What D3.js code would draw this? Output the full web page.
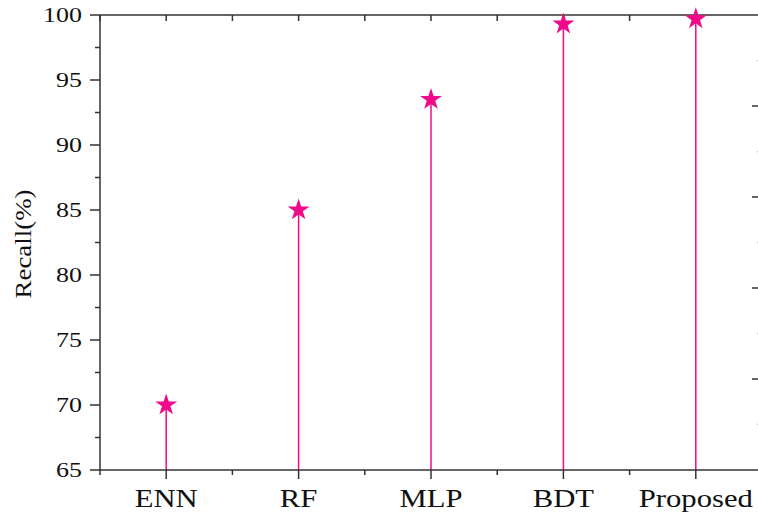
<!DOCTYPE html>
<html>
<head>
<meta charset="utf-8">
<script src="https://cdn.jsdelivr.net/npm/d3@7"></script>
<style>
  body { margin: 0; background: #fff; }
  svg { display: block; }
  text { font-family: "Liberation Serif", "Times New Roman", serif; fill: #111; }
</style>
</head>
<body>
<div id="chart"></div>
<script>
const width = 758;
const height = 515;

// data
const models = ["ENN", "RF", "MLP", "BDT", "Proposed"];
const recall = [70, 85, 93.5, 99.3, 99.7];
const yTicks = [65, 70, 75, 80, 85, 90, 95, 100];

const plotLeft = 100, plotRight = 762, plotTop = 15, plotBottom = 470;
const pink = "#f00a8a";
const axisColor = "#333";

const svg = d3.select("#chart")
  .append("svg")
  .attr("width", width)
  .attr("height", height);

const x = d3.scalePoint().domain(models).range([plotLeft, plotRight]).padding(0.5);
const y = d3.scaleLinear().domain([65, 100]).range([plotBottom, plotTop]);
// right axis has its own scale (5 intervals)
const yr = d3.scaleLinear().domain([0, 5]).range([plotBottom, plotTop]);

const step = x.step();
const minorX = models.map(m => x(m) + step / 2).filter(v => v < plotRight);
minorX.unshift(x(models[0]) - step / 2);

// stems
svg.append("g")
  .selectAll("line")
  .data(models)
  .join("line")
  .attr("x1", d => x(d))
  .attr("x2", d => x(d))
  .attr("y1", (d, i) => y(recall[i]))
  .attr("y2", plotBottom)
  .attr("stroke", pink)
  .attr("stroke-width", 1.5);

// axes
const ax = svg.append("g").attr("stroke", axisColor).attr("stroke-width", 1.5).attr("fill", "none");
ax.append("line").attr("x1", plotLeft).attr("x2", plotRight).attr("y1", plotBottom).attr("y2", plotBottom);
ax.append("line").attr("x1", plotLeft).attr("x2", plotRight).attr("y1", plotTop).attr("y2", plotTop);
ax.append("line").attr("x1", plotLeft).attr("x2", plotLeft).attr("y1", plotTop).attr("y2", plotBottom);
ax.append("line").attr("x1", plotRight).attr("x2", plotRight).attr("y1", plotTop).attr("y2", plotBottom);

// left ticks (outward)
ax.selectAll(".ly").data(yTicks).join("line")
  .attr("x1", plotLeft - 10).attr("x2", plotLeft)
  .attr("y1", d => y(d)).attr("y2", d => y(d));
ax.selectAll(".lym").data(yTicks.slice(0, -1).map(d => d + 2.5)).join("line")
  .attr("x1", plotLeft - 5).attr("x2", plotLeft)
  .attr("y1", d => y(d)).attr("y2", d => y(d));

// right ticks (inward)
ax.selectAll(".ry").data(d3.range(1, 5)).join("line")
  .attr("x1", plotRight - 10).attr("x2", plotRight)
  .attr("y1", d => yr(d)).attr("y2", d => yr(d));
ax.selectAll(".rym").data(d3.range(0.5, 5, 1)).join("line")
  .attr("stroke", "#ccc")
  .attr("x1", plotRight - 5).attr("x2", plotRight)
  .attr("y1", d => yr(d)).attr("y2", d => yr(d));

// bottom ticks (outward)
ax.selectAll(".bx").data(models).join("line")
  .attr("x1", d => x(d)).attr("x2", d => x(d))
  .attr("y1", plotBottom).attr("y2", plotBottom + 9);
ax.selectAll(".bxm").data(minorX).join("line")
  .attr("x1", d => d).attr("x2", d => d)
  .attr("y1", plotBottom).attr("y2", plotBottom + 5);

// top ticks (inward)
ax.selectAll(".tx").data(models).join("line")
  .attr("x1", d => x(d)).attr("x2", d => x(d))
  .attr("y1", plotTop).attr("y2", plotTop + 6);
ax.selectAll(".txm").data(minorX).join("line")
  .attr("x1", d => d).attr("x2", d => d)
  .attr("y1", plotTop).attr("y2", plotTop + 6);

// y tick labels
svg.append("g")
  .selectAll("text")
  .data(yTicks)
  .join("text")
  .attr("transform", d => `translate(${plotLeft - 18},${y(d)}) scale(1.18,1)`)
  .attr("dy", "0.34em")
  .attr("text-anchor", "end")
  .attr("font-size", 22)
  .text(d => d);

// category labels
svg.append("g")
  .selectAll("text")
  .data(models)
  .join("text")
  .attr("transform", d => `translate(${x(d)},507) scale(1.18,1)`)
  .attr("text-anchor", "middle")
  .attr("font-size", 26)
  .text(d => d);

// y axis title
svg.append("text")
  .attr("transform", "translate(31,244) rotate(-90) scale(1.12,1)")
  .attr("text-anchor", "middle")
  .attr("font-size", 24)
  .text("Recall(%)");

// stars
svg.append("g")
  .selectAll("path")
  .data(models)
  .join("path")
  .attr("transform", (d, i) => `translate(${x(d)},${y(recall[i])})`)
  .attr("d", d3.symbol().type(d3.symbolStar).size(150))
  .attr("fill", pink);
</script>
</body>
</html>
